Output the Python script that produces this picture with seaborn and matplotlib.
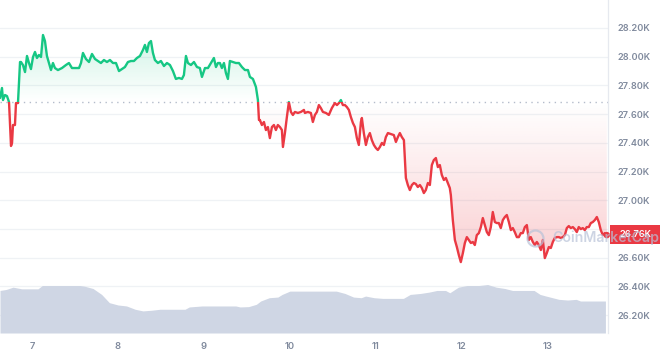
import numpy as np
import pandas as pd
import seaborn as sns
import matplotlib
matplotlib.use("Agg")
import matplotlib.pyplot as plt
from matplotlib.patches import Rectangle
from matplotlib.path import Path

# ---------------- data ----------------
days = [6.628, 6.651, 6.663, 6.686, 6.709, 6.733, 6.756, 6.768, 6.779, 6.802,
        6.814, 6.837, 6.861, 6.872, 6.895, 6.919, 6.942, 6.965, 6.988, 7.012,
        7.035, 7.058, 7.081, 7.105, 7.128, 7.151, 7.174, 7.198, 7.221, 7.244,
        7.267, 7.302, 7.349, 7.395, 7.430, 7.465, 7.512, 7.547, 7.570, 7.593,
        7.628, 7.663, 7.698, 7.733, 7.767, 7.802, 7.837, 7.872, 7.907, 7.942,
        7.977, 8.012, 8.047, 8.081, 8.116, 8.151, 8.186, 8.221, 8.256, 8.291,
        8.314, 8.337, 8.360, 8.384, 8.407, 8.430, 8.465, 8.500, 8.535, 8.570,
        8.605, 8.640, 8.674, 8.709, 8.744, 8.767, 8.791, 8.814, 8.849, 8.884,
        8.919, 8.953, 8.977, 9.012, 9.047, 9.081, 9.116, 9.140, 9.163, 9.186,
        9.209, 9.233, 9.256, 9.279, 9.302, 9.337, 9.372, 9.407, 9.442, 9.477,
        9.512, 9.535, 9.570, 9.605, 9.628, 9.640, 9.651, 9.674, 9.698, 9.721,
        9.744, 9.767, 9.791, 9.814, 9.837, 9.860, 9.884, 9.907, 9.919, 9.942,
        9.965, 9.988, 10.012, 10.035, 10.058, 10.093, 10.128, 10.163, 10.174, 10.209,
        10.244, 10.267, 10.291, 10.314, 10.337, 10.360, 10.384, 10.419, 10.453, 10.488,
        10.523, 10.547, 10.570, 10.593, 10.616, 10.640, 10.663, 10.686, 10.709, 10.733,
        10.756, 10.779, 10.802, 10.826, 10.837, 10.860, 10.884, 10.907, 10.930, 10.953,
        10.977, 11.000, 11.023, 11.047, 11.070, 11.093, 11.116, 11.140, 11.174, 11.209,
        11.233, 11.256, 11.279, 11.302, 11.326, 11.349, 11.372, 11.395, 11.419, 11.442,
        11.465, 11.488, 11.512, 11.535, 11.558, 11.581, 11.605, 11.628, 11.651, 11.674,
        11.698, 11.721, 11.744, 11.767, 11.791, 11.814, 11.837, 11.860, 11.872, 11.895,
        11.919, 11.942, 11.965, 11.988, 12.012, 12.035, 12.058, 12.081, 12.105, 12.128,
        12.151, 12.174, 12.198, 12.221, 12.244, 12.267, 12.291, 12.314, 12.337, 12.360,
        12.384, 12.407, 12.430, 12.453, 12.477, 12.500, 12.523, 12.547, 12.570, 12.593,
        12.616, 12.640, 12.663, 12.686, 12.709, 12.733, 12.756, 12.779, 12.802, 12.826,
        12.849, 12.872, 12.895, 12.919, 12.942, 12.965, 12.988, 13.012, 13.035, 13.058,
        13.081, 13.105, 13.128, 13.151, 13.174, 13.198, 13.221, 13.244, 13.267, 13.291,
        13.314, 13.337, 13.360, 13.384, 13.407, 13.430, 13.453, 13.477, 13.500, 13.523,
        13.547, 13.570, 13.593, 13.616, 13.640, 13.663, 13.686]

prices = [27.712, 27.782, 27.698, 27.733, 27.726, 27.684, 27.378, 27.399, 27.524, 27.524,
          27.677, 27.677, 27.963, 27.963, 27.942, 27.893, 28.005, 27.956, 27.914, 27.998,
          28.033, 27.991, 28.012, 27.998, 28.151, 28.109, 28.005, 27.956, 27.907, 27.956,
          27.921, 27.907, 27.921, 27.942, 27.956, 27.921, 27.921, 27.921, 27.956, 28.026,
          27.984, 27.963, 28.019, 27.984, 27.970, 27.956, 27.977, 27.963, 27.977, 27.956,
          27.956, 27.900, 27.914, 27.928, 27.963, 27.970, 27.970, 27.991, 28.005, 28.047,
          28.082, 28.033, 28.095, 28.109, 28.026, 27.977, 27.956, 27.970, 27.935, 27.956,
          27.942, 27.900, 27.845, 27.852, 27.845, 27.872, 28.005, 27.956, 27.942, 27.963,
          27.928, 27.921, 27.859, 27.921, 27.921, 27.956, 27.991, 27.928, 27.956, 27.956,
          27.921, 27.956, 27.886, 27.845, 27.970, 27.963, 27.956, 27.956, 27.928, 27.907,
          27.907, 27.859, 27.845, 27.789, 27.698, 27.559, 27.559, 27.524, 27.545, 27.489,
          27.510, 27.433, 27.510, 27.524, 27.489, 27.524, 27.510, 27.489, 27.371, 27.468,
          27.580, 27.684, 27.615, 27.594, 27.615, 27.608, 27.615, 27.629, 27.608, 27.615,
          27.608, 27.545, 27.594, 27.615, 27.663, 27.642, 27.615, 27.608, 27.594, 27.642,
          27.677, 27.663, 27.677, 27.698, 27.663, 27.663, 27.649, 27.629, 27.580, 27.538,
          27.510, 27.433, 27.385, 27.545, 27.573, 27.468, 27.385, 27.440, 27.468, 27.419,
          27.385, 27.364, 27.350, 27.371, 27.399, 27.385, 27.440, 27.468, 27.461, 27.454,
          27.406, 27.440, 27.468, 27.440, 27.419, 27.155, 27.106, 27.071, 27.106, 27.120,
          27.113, 27.092, 27.106, 27.085, 27.050, 27.071, 27.120, 27.106, 27.245, 27.280,
          27.294, 27.231, 27.245, 27.176, 27.141, 27.155, 27.120, 27.085, 27.036, 26.862,
          26.723, 26.674, 26.618, 26.569, 26.632, 26.702, 26.743, 26.723, 26.702, 26.709,
          26.688, 26.757, 26.771, 26.813, 26.876, 26.827, 26.778, 26.757, 26.813, 26.918,
          26.848, 26.841, 26.841, 26.806, 26.862, 26.883, 26.897, 26.848, 26.792, 26.806,
          26.778, 26.743, 26.743, 26.771, 26.771, 26.813, 26.827, 26.723, 26.743, 26.709,
          26.688, 26.709, 26.688, 26.653, 26.723, 26.597, 26.632, 26.674, 26.667, 26.709,
          26.737, 26.743, 26.743, 26.737, 26.743, 26.757, 26.806, 26.820, 26.806, 26.813,
          26.799, 26.778, 26.813, 26.799, 26.806, 26.792, 26.813, 26.813, 26.841, 26.848,
          26.862, 26.883, 26.848, 26.792, 26.757, 26.771, 26.757]

baseline = 27.684
last_label = "26.76K"

vol_days = [6.628, 6.70, 6.78, 6.88, 7.07, 7.12, 7.56, 7.61, 7.71, 7.81, 7.90, 8.00, 8.10,
            8.20, 8.29, 8.39, 8.49, 8.78, 8.83, 8.98, 9.37, 9.42, 9.52, 9.61, 9.66,
            9.76, 9.86, 9.91, 10.00, 10.15, 10.54, 10.64, 10.74, 10.83, 10.88, 10.98,
            11.08, 11.32, 11.40, 11.52, 11.62, 11.71, 11.81, 11.86, 11.96, 12.06, 12.20,
            12.30, 12.40, 12.50, 12.59, 12.84, 12.91, 12.98, 13.13, 13.23, 13.33, 13.38,
            13.47, 13.67]
volumes = [12.9, 13.2, 13.9, 13.4, 13.4, 14.4, 14.4, 14.2, 13.5, 11.7, 9.2, 8.5, 8.2,
           7.2, 6.7, 6.9, 7.2, 7.2, 7.9, 8.2, 8.2, 7.9, 8.0, 8.7, 9.7,
           10.7, 10.9, 11.7, 12.7, 12.7, 12.7, 12.0, 10.9, 10.7, 11.2, 10.7,
           10.5, 10.5, 11.7, 12.0, 12.4, 12.9, 12.9, 12.2, 13.9, 14.4, 14.4,
           14.7, 13.9, 13.5, 12.9, 12.9, 11.7, 11.2, 10.2, 10.0, 10.2, 9.7,
           9.7, 9.7]

y_ticks = [26.2, 26.4, 26.6, 26.8, 27.0, 27.2, 27.4, 27.6, 27.8, 28.0, 28.2]
y_ticklabels = ["26.20K", "26.40K", "26.60K", "26.80K", "27.00K", "27.20K",
                "27.40K", "27.60K", "27.80K", "28.00K", "28.20K"]
x_ticks = [7, 8, 9, 10, 11, 12, 13]
x_ticklabels = ["7", "8", "9", "10", "11", "12", "13"]

# ---------------- style ----------------
GREEN = "#16c784"
RED = "#ea3943"
TXT = "#808a9d"
GRID = "#eff2f5"
VOL = "#cfd6e4"

sns.set_theme(style="white")
plt.rcParams["font.family"] = ["Inter", "DejaVu Sans"]

df = pd.DataFrame({"day": days, "price": prices})
vdf = pd.DataFrame({"day": vol_days, "volume": volumes})

xmin, xmax = 6.628, 13.70
ymin, ymax = 26.075, 28.395

fig = plt.figure(figsize=(6.6, 3.56), dpi=100)
ax = fig.add_axes([0, 23 / 356, 608 / 660, 333 / 356])
ax.set_xlim(xmin, xmax)
ax.set_ylim(ymin, ymax)

# volume on twin axis (drawn above grid)
ax2 = ax.twinx()
ax2.fill_between(vdf["day"], vdf["volume"], 0, color=VOL, lw=0, zorder=1)
ax2.set_ylim(0, 101)
ax2.set_xlim(xmin, xmax)
ax2.set_yticks([])
for s in ax2.spines.values():
    s.set_visible(False)
ax2.patch.set_alpha(0)
ax.set_zorder(1)
ax2.set_zorder(2)

# grid
for t in y_ticks:
    ax.axhline(t, color=GRID, lw=0.9, zorder=0)

# gradient fills
d = np.asarray(days)
p = np.asarray(prices)
gcoll = ax.fill_between(d, p, baseline, where=p >= baseline, interpolate=True,
                        facecolor="none", edgecolor="none")
rcoll = ax.fill_between(d, p, baseline, where=p <= baseline, interpolate=True,
                        facecolor="none", edgecolor="none")

def grad_img(color, a_top, a_bot, extent, clip_coll):
    rgb = matplotlib.colors.to_rgb(color)
    n = 256
    img = np.zeros((n, 2, 4))
    img[:, :, 0], img[:, :, 1], img[:, :, 2] = rgb
    img[:, :, 3] = np.linspace(a_top, a_bot, n)[:, None]
    im = ax.imshow(img, extent=extent, aspect="auto", origin="upper", zorder=1,
                   interpolation="bilinear")
    path = Path.make_compound_path(*clip_coll.get_paths())
    im.set_clip_path(path, ax.transData)

grad_img(GREEN, 0.20, 0.0, [xmin, xmax, baseline, 28.15], gcoll)
grad_img(RED, 0.0, 0.24, [xmin, xmax, 26.57, baseline], rcoll)

ax.set_xlim(xmin, xmax)
ax.set_ylim(ymin, ymax)

# baseline dotted
ax.axhline(baseline, color="#b4bccb", lw=1.0, ls=(0, (1, 3.2)), zorder=2)

# price line: green above baseline, red below
sns.lineplot(data=df, x="day", y="price", ax=ax, color=GREEN, lw=1.7, zorder=4)
gline = ax.lines[-1]
gline.set_clip_path(Rectangle((xmin, baseline), xmax - xmin, ymax - baseline,
                              transform=ax.transData))
sns.lineplot(data=df, x="day", y="price", ax=ax, color=RED, lw=1.7, zorder=4)
rline = ax.lines[-1]
rline.set_clip_path(Rectangle((xmin, ymin), xmax - xmin, baseline - ymin,
                              transform=ax.transData))
# end-of-line dot
sns.scatterplot(x=[days[-1]], y=[prices[-1]], ax=ax, color=RED, s=22,
                edgecolor="none", zorder=5, clip_on=False)

# axes ticks / spines
ax.yaxis.tick_right()
ax.yaxis.set_label_position("right")
ax.set_yticks(y_ticks)
ax.set_yticklabels(y_ticklabels)
ax.set_xticks(x_ticks)
ax.set_xticklabels(x_ticklabels)
ax.tick_params(axis="y", which="both", left=False, right=False, labelleft=False,
               labelright=True, length=0, pad=7, labelsize=6.6, labelcolor=TXT)
ax.tick_params(axis="x", length=0, pad=6.5, labelsize=6.8, labelcolor=TXT)
for lab in ax.get_xticklabels() + ax.get_yticklabels():
    lab.set_fontweight("semibold")
ax.set_xlabel("")
ax.set_ylabel("")
for s in ["left", "top", "bottom"]:
    ax.spines[s].set_visible(False)
ax.spines["right"].set_color("#e6e9ef")
ax.spines["right"].set_linewidth(0.9)
ax.patch.set_alpha(0)

# last price tag
ytr = ax.get_yaxis_transform()
tag_h = 18.5 / 143.5
ax.add_patch(Rectangle((1.0033, p[-1] - tag_h / 2 + 0.004), 0.09, tag_h, transform=ytr,
                       facecolor=RED, edgecolor="none", clip_on=False, zorder=10))
ax.text(1.045, p[-1] + 0.006, last_label, transform=ytr, color="white", fontsize=6.6,
        fontweight="semibold", ha="center", va="center", clip_on=False, zorder=11)

# watermark (above the tag, semi-transparent)
ax.plot([0.880], [0.285], transform=ax.transAxes, marker="o", ms=11.5,
        mfc="none", mec="#b8c2d8", mew=1.6, alpha=0.7, zorder=12, clip_on=False)
ax.text(0.908, 0.285, "CoinMarketCap", transform=ax.transAxes, fontsize=10.2,
        fontweight="semibold", color="#b8c2d8", alpha=0.7, va="center", ha="left",
        clip_on=False, zorder=12)

fig.savefig("out.png", dpi=100)
